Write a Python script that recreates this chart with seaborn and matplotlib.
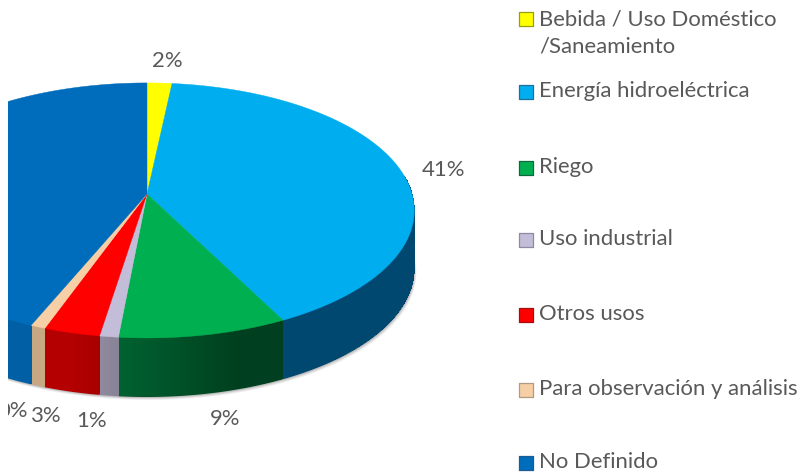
import numpy as np
import matplotlib
matplotlib.use("Agg")
import matplotlib.pyplot as plt
import seaborn as sns

categories = ["Bebida / Uso Doméstico\n/Saneamiento", "Energía hidroeléctrica", "Riego",
              "Uso industrial", "Otros usos", "Para observación y análisis", "No Definido"]
shares = [1.7, 40.8, 9.0, 1.0, 3.0, 0.8, 43.7]
pct_labels = ["2%", "41%", "9%", "1%", "3%", "0%"]
top_colors = ["#FFFF00", "#00ADEF", "#00B050", "#C4BDD9", "#FF0000", "#F6CFA6", "#006CBC"]
side_colors = ["#A0A000", "#0067A0", "#005A2C", "#7C7789", "#900000", "#A08668", "#004C84"]
edge_colors = ["#9C9C10", "#1F6F9C", "#0E6A3A", "#8E8AA0", "#A01010", "#B09A80", "#1A5C94"]

sns.set_theme(style="white")
plt.rcParams["font.family"] = ["Lato", "DejaVu Sans"]
TEXT = "#595959"

W, H = 801, 474
fig = plt.figure(figsize=(W / 100, H / 100), dpi=100, facecolor="white")
ax = fig.add_axes([8 / W, 0, 1 - 8 / W, 1])
ax.set_xlim(8, W)
ax.set_ylim(H, 0)
ax.axis("off")

# pie drawn in perspective: unit circle -> picture
APEX = (147, 194)
K, A, D, DEPTH = 0.129, 125.4, 265.0, 59


def project(t):
    u, v = np.sin(t), np.cos(t)
    den = 1 + K * v
    return APEX[0] + D * u / den, APEX[1] - A * v / den


edges = np.deg2rad(np.concatenate([[0], np.cumsum(shares)]) * 3.6)
edges[-1] = 2 * np.pi


def shade(col, t):
    # the wall darkens towards the lower right and lightens towards the left
    rgb = np.array(matplotlib.colors.to_rgb(col))
    return np.clip(rgb * np.clip(1 - np.sin(t), 0.7, 1.25), 0, 1)


# soft floor shadow
ts = np.linspace(np.pi * 0.45, 3 * np.pi / 2, 240)
xs, ys = project(ts)
for off, alpha in zip([3.0, 2.0, 1.0], [0.12, 0.2, 0.3]):
    ax.fill(xs + off * 0.7, ys + DEPTH + off, color="#7f7f7f", alpha=alpha, lw=0, zorder=1)

# side wall: a smooth base outline per slice, then hard-edged shading strips inside it
for a, b, col in zip(edges[:-1], edges[1:], side_colors):
    visible = np.linspace(a, b, max(3, int(np.degrees(b - a)) * 2))
    visible = visible[np.cos(visible) <= 0.15]
    if len(visible) < 2:
        continue
    x, y = project(visible)
    base = shade(col, visible[len(visible) // 2])
    ax.fill(np.r_[x, x[::-1]], np.r_[y, y[::-1] + DEPTH], color=base, lw=0, zorder=2)
    for i in range(len(visible) - 1):
        c = shade(col, (visible[i] + visible[i + 1]) / 2)
        ax.fill([x[i], x[i + 1], x[i + 1], x[i]],
                [y[i], y[i + 1], y[i + 1] + DEPTH - 1, y[i] + DEPTH - 1],
                color=c, lw=0, antialiased=False, zorder=2.5)

# top face
for a, b, col in zip(edges[:-1], edges[1:], top_colors):
    grid = np.linspace(a, b, max(3, int(np.degrees(b - a))))
    x, y = project(grid)
    ax.fill(np.r_[APEX[0], x], np.r_[APEX[1], y], color=col, lw=0.3, zorder=3)

# percentage labels
label_xy = [(167, 61), (443, 170), (225, 419), (92, 421), (46, 416), (13, 411)]
for txt, (lx, ly) in zip(pct_labels, label_xy):
    ax.text(lx, ly, txt, fontsize=15.9, color=TEXT, ha="center", va="center", clip_on=True, zorder=5)

# legend
legend_y = [33, 91, 167, 239, 314, 389, 462]
for name, col, edge, ly in zip(categories, top_colors, edge_colors, legend_y):
    my = ly - 15 if "\n" in name else ly
    ax.scatter([525.5], [my + 1], marker="s", s=90, color=col, edgecolors=edge, linewidths=0.9, zorder=5)
    ax.text(539, ly, name, fontsize=15.9, color=TEXT, ha="left", va="center", linespacing=1.45, zorder=5)

fig.savefig("out.png", dpi=100, facecolor="white")
